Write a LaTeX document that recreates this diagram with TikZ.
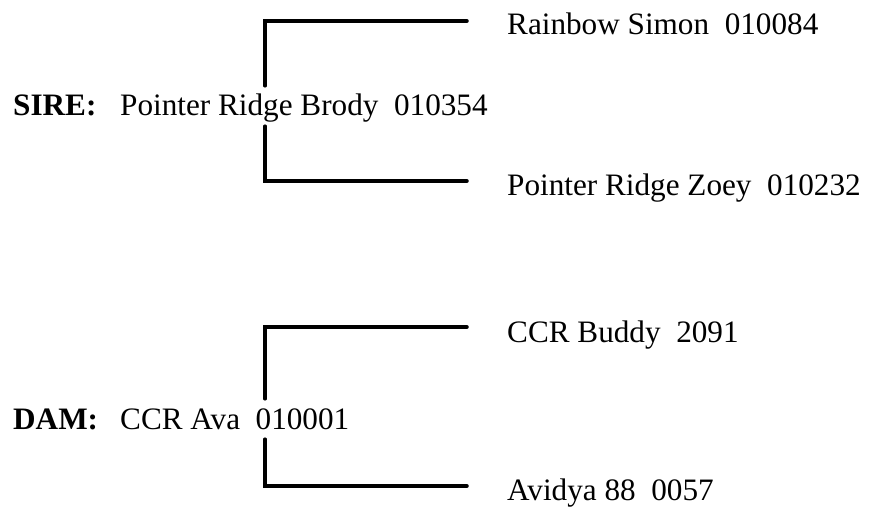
\documentclass[tikz,border=0pt]{standalone}
\usepackage{fontspec}
\setmainfont{Liberation Serif}
\begin{document}
\begin{tikzpicture}[x=1pt, y=-1pt, every node/.style={font=\fontsize{31.2}{36}\selectfont, inner sep=0pt}]
  \tikzstyle{bracket}=[line width=3.5pt, line cap=round, line join=miter]
  \tikzstyle{parent}=[anchor=base west, text height=30pt, text depth=10pt]
  \tikzstyle{grand}=[anchor=base west]
  \tikzstyle{sex}=[anchor=base west, font=\fontsize{31.2}{36}\selectfont\bfseries]
  \useasboundingbox (0,0) rectangle (869,508);
  % sire side
  \node[sex] (sirelbl) at (13,116) {SIRE:};
  \node[parent] (sire) at (120,116) {Pointer Ridge Brody\ \ 010354};
  \node[grand] (rs) at (507,35) {Rainbow Simon\ \ 010084};
  \node[grand] (prz) at (507,195) {Pointer Ridge Zoey\ \ 010232};
  \coordinate (sa) at (467,21);
  \coordinate (sb) at (467,181);
  \coordinate (sx) at (265,0);
  \draw[bracket] (sa) -| (sire.north -| sx);
  \draw[bracket] (sire.south -| sx) |- (sb);
  % dam side
  \node[sex] (damlbl) at (13,429) {DAM:};
  \node[parent] (dam) at (120,429) {CCR Ava\ \ 010001};
  \node[grand] (cb) at (507,342) {CCR Buddy\ \ 2091};
  \node[grand] (av) at (507,500) {Avidya 88\ \ 0057};
  \coordinate (da) at (467,327);
  \coordinate (db) at (467,486);
  \draw[bracket] (da) -| (dam.north -| sx);
  \draw[bracket] (dam.south -| sx) |- (db);
\end{tikzpicture}
\end{document}
